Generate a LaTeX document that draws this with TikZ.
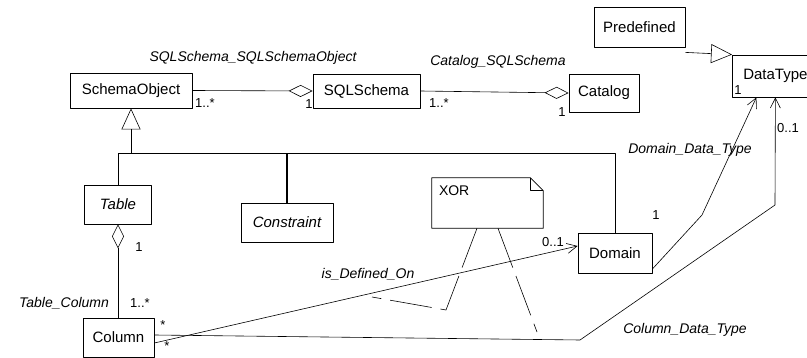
\documentclass[tikz,border=0pt]{standalone}
\usepackage{fontspec}
\setmainfont{Liberation Sans}
\usetikzlibrary{arrows.meta}

\tikzset{
  umlclass/.style={draw, line width=0.8pt, inner sep=0pt, font=\fontsize{15}{18}\selectfont},
  assoclabel/.style={font=\fontsize{14}{16}\selectfont\itshape},
  mult/.style={font=\fontsize{13}{15}\selectfont, inner sep=1pt},
  openarrow/.style={-{Straight Barb[length=10pt,width=10pt]}},
  generalize/.style={-{Triangle[open,length=21pt,width=19pt]}},
  aggregate/.style={{Diamond[open,length=24pt,width=12pt]}-},
  xorline/.style={dash pattern=on 42pt off 9pt}
}

\begin{document}
\begin{tikzpicture}[x=1pt, y=-1pt, line width=0.6pt, line join=round]

    \useasboundingbox (0,0) rectangle (807,358);

    % pixel layout, y grows downward
    % generalization bar at y=153, Column_Data_Type bend at (580,340) and (775,205)
    \coordinate (barL) at (118,153);
    \coordinate (barR) at (615,153);
    \coordinate (cdtA) at (580,340);
    \coordinate (cdtB) at (775,205);
    \coordinate (ddtA) at (702,215);

    % Classes
    \node[umlclass, minimum width=122pt, minimum height=35pt] (schemaobj) at (131,90.5) {SchemaObject};
    \node[umlclass, minimum width=107pt, minimum height=34pt] (sqlschema) at (366.5,91) {SQLSchema};
    \node[umlclass, minimum width=70pt, minimum height=38pt] (catalog) at (604,93) {Catalog};
    \node[umlclass, minimum width=91pt, minimum height=40pt] (predefined) at (639.5,27) {Predefined};
    \node[umlclass, minimum width=86pt, minimum height=42pt, anchor=west] (datatype) at (732,76) {DataType};
    \node[umlclass, minimum width=67pt, minimum height=39pt, font=\fontsize{15}{18}\selectfont\itshape] (table) at (118,204.5) {Table};
    \node[umlclass, minimum width=92pt, minimum height=39pt, font=\fontsize{15}{18}\selectfont\itshape] (constraint) at (287,222.5) {Constraint};
    \node[umlclass, minimum width=71pt, minimum height=39pt] (column) at (118.5,337.5) {Column};
    \node[umlclass, minimum width=74pt, minimum height=40pt] (domain) at (615,253) {Domain};

    % Note
    \node[minimum width=111pt, minimum height=50pt, inner sep=0pt] (xor) at (487.5,203) {};
    \draw[line width=0.8pt] (xor.north west) -- ([xshift=-13pt]xor.north east)
        -- ([yshift=-13pt]xor.north east) -- (xor.south east) -- (xor.south west) -- cycle;
    \draw ([xshift=-13pt]xor.north east) -- ([shift={(-13pt,-13pt)}]xor.north east)
        -- ([yshift=-13pt]xor.north east);
    \node[anchor=north west, inner sep=0pt, font=\fontsize{14}{16}\selectfont] (xortext)
        at ([shift={(7pt,-8pt)}]xor.north west) {XOR};

    % Aggregations
    \draw[aggregate] (sqlschema.west) -- (schemaobj.east);
    \draw[aggregate] (catalog.west) -- (sqlschema.east);
    \draw[aggregate] (table.south) -- (column.north -| table.south);

    % Generalizations
    \draw (table.north) -- (barL) -- (barR) -- (domain.north);
    \draw[line width=1.2pt] (constraint.north) -- (constraint.north |- barL);
    \draw[generalize] (schemaobj.south |- barL) -- (schemaobj.south);
    \draw[generalize] ([yshift=-5pt]predefined.south east) -- (datatype.north west);

    % Associations to Domain and DataType
    \draw[openarrow] ([yshift=-5.5pt]column.east) -- ([yshift=7pt]domain.west);
    \draw[openarrow] ([yshift=2.5pt]column.east) -- (cdtA) -- (cdtB) -- (datatype.south);
    \draw[openarrow] ([yshift=-16pt]domain.east) -- (ddtA) -- ([xshift=-19pt]datatype.south);

    % XOR constraint lines
    \draw[xorline] ([xshift=-10.5pt]xor.south) -- (446,310) -- (372,297);
    \draw[xorline] ([xshift=10.5pt]xor.south) -- (537,332);

    % Labels
    \node[assoclabel] (lblsso) at (253,58) {SQLSchema\_SQLSchemaObject};
    \node[assoclabel] (lblcat) at (498,62) {Catalog\_SQLSchema};
    \node[assoclabel] (lbltc) at (64,303) {Table\_Column};
    \node[assoclabel] (lbldef) at (368,274) {is\_Defined\_On};
    \node[assoclabel] (lblddt) at (690,150) {Domain\_Data\_Type};
    \node[assoclabel] (lblcdt) at (685,330) {Column\_Data\_Type};

    \node[mult] (m1) at (205,103) {1..*};
    \node[mult] (m2) at (309,104) {1};
    \node[mult] (m3) at (439,103) {1..*};
    \node[mult] (m4) at (562,112) {1};
    \node[mult] (m5) at (139,247) {1};
    \node[mult] (m6) at (140,303) {1..*};
    \node[mult] (m7) at (163,325) {*};
    \node[mult] (m8) at (167,346) {*};
    \node[mult] (m9) at (553,242) {0..1};
    \node[mult] (m10) at (656,215) {1};
    \node[mult] (m11) at (738,90) {1};
    \node[mult] (m12) at (788,128) {0..1};

\end{tikzpicture}
\end{document}
